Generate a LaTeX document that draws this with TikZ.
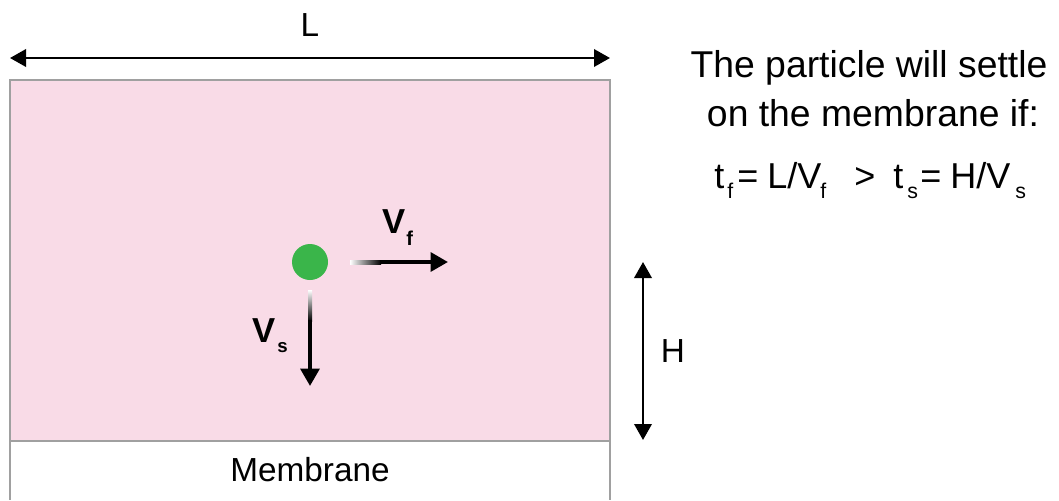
\documentclass[tikz,border=0pt]{standalone}
\usepackage{fontspec}
\setmainfont{Liberation Sans}
\usetikzlibrary{arrows.meta}
\definecolor{pinkbg}{RGB}{249,219,231}
\definecolor{dotgreen}{RGB}{58,181,74}
\definecolor{edgegray}{RGB}{160,160,160}
\tikzset{
  dimarrow/.style={line width=1.9pt,{Triangle[length=12pt,width=13pt]}-{Triangle[length=12pt,width=13pt]}},
  velarrow/.style={line width=3pt,-{Triangle[length=13pt,width=14pt]}},
  lbl/.style={inner sep=0pt,font=\fontsize{25}{30}\selectfont},
  bigtxt/.style={inner sep=0pt,align=center,font=\fontsize{28}{33}\selectfont},
  eqtxt/.style={inner sep=0pt,anchor=base west,font=\fontsize{27}{32}\selectfont},
  eqsub/.style={inner sep=0pt,anchor=base west,font=\fontsize{16}{19}\selectfont},
  vtxt/.style={inner sep=0pt,anchor=base,font=\fontsize{26}{30}\selectfont\bfseries},
  vsub/.style={inner sep=0pt,anchor=base west,font=\fontsize{15}{18}\selectfont\bfseries},
}
\begin{document}
\begin{tikzpicture}[x=0.75pt,y=-0.75pt]
\useasboundingbox (0,0) rectangle (1059,500);
% channel
\fill[pinkbg] (10,80) rectangle (610,441);
\draw[edgegray,line width=1pt] (10,500) -- (10,80) -- (610,80) -- (610,500);
\draw[edgegray,line width=1pt] (10,441) -- (610,441);
\node[lbl] (mem) at (310,470) {Membrane};
% L dimension
\coordinate (Ll) at (10,58);
\coordinate (Lr) at (610,58);
\draw[dimarrow] (Ll) -- (Lr);
\node[lbl] (Llab) at (310,25) {L};
% H dimension
\coordinate (Ht) at (643,262);
\coordinate (Hb) at (643,440);
\draw[dimarrow] (Ht) -- (Hb);
\node[lbl] (Hlab) at (673,351) {H};
% particle
\node[circle,fill=dotgreen,minimum size=27pt,inner sep=0pt] (p) at (310,262) {};
% Vf arrow
\coordinate (fs) at (350,262);
\coordinate (fm) at (380,262);
\coordinate (fe) at (448,262);
\shade[left color=white,right color=black] (350,260) rectangle (381,264);
\draw[velarrow] (fm) -- (fe);
\node[vtxt] (vf) at (394,233) {V};
\node[vsub] (vfs) at (406,245) {f};
% Vs arrow
\coordinate (ss) at (310,290);
\coordinate (sm) at (310,320);
\coordinate (se) at (310,386);
\shade[top color=white,bottom color=black] (308,290) rectangle (312,321);
\draw[velarrow] (sm) -- (se);
\node[vtxt] (vs) at (264,342) {V};
\node[vsub,font=\fontsize{14}{16}\selectfont\bfseries] (vss) at (277,352) {s};
% text
\node[bigtxt] (t1) at (869,68) {The particle will settle};
\node[bigtxt] (t2) at (873,113) {on the membrane if:};
\node[eqtxt] (e1) at (714,188) {t};
\node[eqsub] (e2) at (727,198) {f};
\node[eqtxt] (e3) at (737,188) {=};
\node[eqtxt] (e4) at (767,188) {L/V};
\node[eqsub] (e5) at (820,198) {f};
\node[eqtxt] (e6) at (854,188) {>};
\node[eqtxt] (e7) at (893,188) {t};
\node[eqsub] (e8) at (907,198) {s};
\node[eqtxt] (e9) at (920,188) {=};
\node[eqtxt] (e10) at (950,188) {H/V};
\node[eqsub] (e11) at (1015,198) {s};
\end{tikzpicture}
\end{document}
